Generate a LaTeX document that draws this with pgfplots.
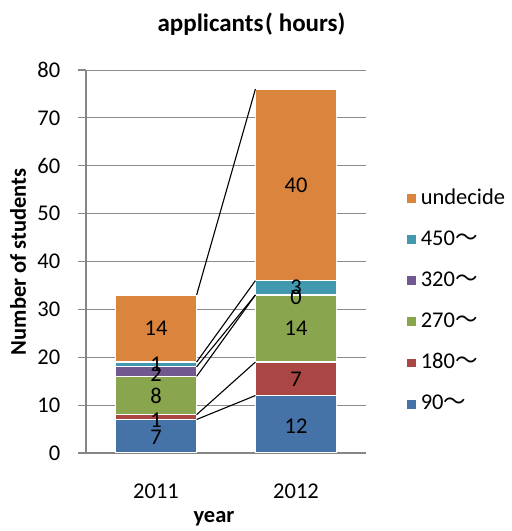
\documentclass[border=0pt]{standalone}
\usepackage{fontspec}
\setmainfont{Carlito}
\newfontfamily\cjk{Noto Sans CJK JP}
\usepackage{pgfplots}
\usepackage{pgfplotstable}
\pgfplotsset{compat=1.18}
\definecolor{cA}{HTML}{4572A7}
\definecolor{cB}{HTML}{AA4643}
\definecolor{cC}{HTML}{89A54E}
\definecolor{cD}{HTML}{71588F}
\definecolor{cE}{HTML}{4198AF}
\definecolor{cF}{HTML}{DB843D}
\definecolor{axisgray}{HTML}{868686}
\definecolor{gridgray}{HTML}{8C8C8C}
\pgfplotstableread{
x s90 s180 s270 s320 s450 und
0 7 1 8 2 1 14
1 12 7 14 0 3 40
}\data
\begin{document}
\fontsize{22.5bp}{27bp}\selectfont
\begin{tikzpicture}[x=1bp,y=1bp]
\path[use as bounding box] (0,0) rectangle (512,531);
\begin{axis}[
  at={(86bp,78bp)}, anchor=south west,
  scale only axis, width=280bp, height=383bp,
  ybar stacked, bar width=0.58,
  xmin=-0.5, xmax=1.5, ymin=0, ymax=80,
  xtick={0,1}, xticklabels={2011,2012},
  ytick={0,10,...,80},
  ymajorgrids, grid style={color=gridgray, line width=0.9bp},
  axis x line*=bottom, axis y line*=left,
  axis line style={color=axisgray, line width=1.2bp},
  x tick style={draw=none},
  y tick style={color=axisgray, line width=1.2bp},
  tick align=outside, major tick length=8bp,
  /pgf/number format/assume math mode=true,
  yticklabel style={xshift=-10bp},
  xticklabel style={yshift=-15bp},
  title={\fontsize{25bp}{30bp}\selectfont\bfseries applicants\kern1.5bp(\kern6bp hours)},
  title style={at={(axis description cs:0.591,1.105)}, anchor=center},
  xlabel={\bfseries year},
  xlabel style={at={(axis description cs:0.457,-0.172)}, anchor=center},
  ylabel={\bfseries Number of students},
  ylabel style={at={(axis description cs:-0.243,0.499)}, anchor=center},
  reverse legend,
  legend image code/.code={\fill[#1] (0bp,-5bp) rectangle (10bp,5bp);},
  legend style={draw=none, fill=none, at={(1.13,0.397)}, anchor=west,
    row sep=15bp, legend cell align=left,
    nodes={inner sep=4bp}},
]
\addplot[fill=cA, draw=white, line width=1.2bp] table[x=x,y=s90]{\data};
\addlegendentry{90{\cjk ～}}
\addplot[fill=cB, draw=white, line width=1.2bp] table[x=x,y=s180]{\data};
\addlegendentry{180{\cjk ～}}
\addplot[fill=cC, draw=white, line width=1.2bp] table[x=x,y=s270]{\data};
\addlegendentry{270{\cjk ～}}
\addplot[fill=cD, draw=white, line width=1.2bp] table[x=x,y=s320]{\data};
\addlegendentry{320{\cjk ～}}
\addplot[fill=cE, draw=white, line width=1.2bp] table[x=x,y=s450]{\data};
\addlegendentry{450{\cjk ～}}
\addplot[fill=cF, draw=white, line width=1.2bp] table[x=x,y=und]{\data};
\addlegendentry{undecide}
\end{axis}
\begin{axis}[
  at={(86bp,78bp)}, anchor=south west,
  scale only axis, width=280bp, height=383bp,
  xmin=-0.5, xmax=1.5, ymin=0, ymax=80,
  hide axis, clip=false,
]
\addplot[black, line width=1.1bp] coordinates {(0.29,7) (0.71,12)};
\addplot[black, line width=1.1bp] coordinates {(0.29,8) (0.71,19)};
\addplot[black, line width=1.1bp] coordinates {(0.29,16) (0.71,33)};
\addplot[black, line width=1.1bp] coordinates {(0.29,18) (0.71,33)};
\addplot[black, line width=1.1bp] coordinates {(0.29,19) (0.71,36)};
\addplot[black, line width=1.1bp] coordinates {(0.29,33) (0.71,76)};
\addplot[draw=none, mark=none, nodes near coords, point meta=explicit symbolic,
  every node near coord/.style={anchor=center, inner sep=0pt, text=black}]
  coordinates {(0,3.2)[7] (0,6.8)[1] (0,12)[8] (0,16.4)[2] (0,18.6)[1] (0,26)[14]
               (1,5.6)[12] (1,15.5)[7] (1,26)[14] (1,32.6)[0] (1,34.6)[3] (1,56)[40]};
\end{axis}
\end{tikzpicture}
\end{document}
